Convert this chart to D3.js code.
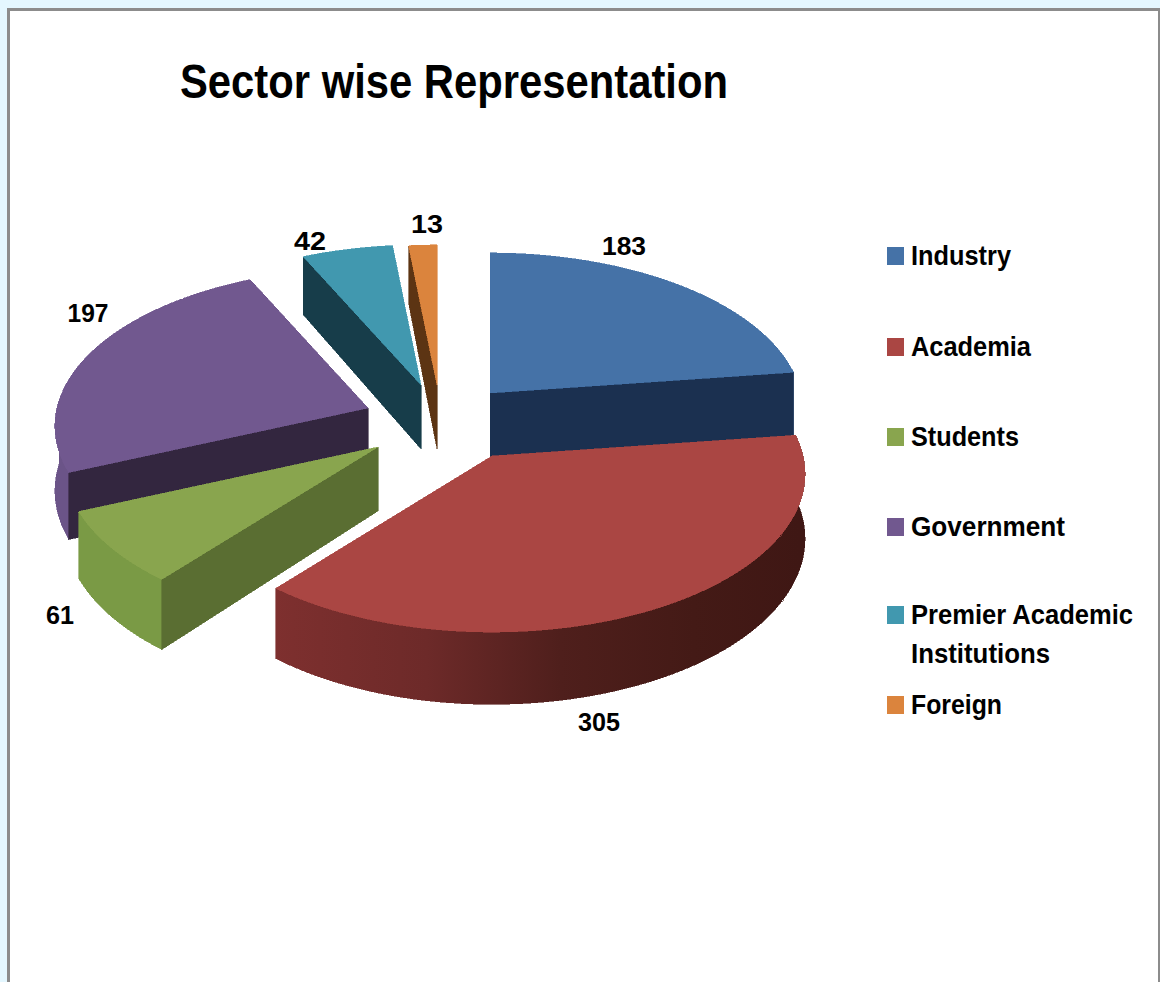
<!DOCTYPE html>
<html><head><meta charset="utf-8">
<style>html,body{margin:0;padding:0;background:#e4f7ff;overflow:hidden}svg{display:block}text{font-family:"Liberation Sans",Arial,sans-serif;font-weight:700;fill:#000}</style>
<script src="https://cdn.jsdelivr.net/npm/d3@7/dist/d3.min.js"></script>
</head><body><svg id="c" width="1160" height="982"></svg>
<script>
const categories = ["Industry","Academia","Students","Government","Premier Academic Institutions","Foreign"];
const values = [183,305,61,197,42,13];
const chartTitle = "Sector wise Representation";

const topColors  = ["#4572a7","#aa4643","#89a54e","#71588f","#4198af","#db843d"];
const faceColors = ["#1b3050","#5c2321","#5a6e32","#33263f","#173d4a","#5c3413"];
const rimColors  = ["#2a4a75","url(#rimRed)","#7a9a45","#6b5488","#2f6f80","#a0602c"];
const apexX = [490,492,378,368,421,437];
const apexY = [393,456,447,408,385,385];
const drawOrder = [0,5,4,3,2,1];
const labelX = [624,599,60,88,310,427];
const labelY = [255,731,624,322,250,233];
const labelW = [44,42,28,41,32,32];
const legendY = [247,338,428,518,606,696];
const legendLines = [["Industry"],["Academia"],["Students"],["Government"],["Premier Academic","Institutions"],["Foreign"]];
const legendW = [[100],[120],[108],[154],[222,139],[91]];

const SX = 311, SY = 156, K = 0.114, DEPTH = 64;
const svg = d3.select("#c");

const defs = svg.append("defs");
const g = defs.append("linearGradient").attr("id","rimRed").attr("gradientUnits","userSpaceOnUse")
  .attr("x1",267).attr("x2",800).attr("y1",0).attr("y2",0);
[[0,"#7f302f"],[0.3,"#6d2a29"],[0.55,"#4f1f1c"],[0.8,"#441a16"],[1,"#3f1714"]]
  .forEach(([o,c])=>g.append("stop").attr("offset",o).attr("stop-color",c));

// frame
svg.append("rect").attr("x",8.5).attr("y",9.5).attr("width",1160).attr("height",990)
  .attr("fill","#fff").attr("stroke","#8c8c8c").attr("stroke-width",3);
svg.append("rect").attr("x",1158).attr("y",9).attr("width",2).attr("height",973).attr("fill","#8c8c8c");

const pie = d3.pie().sort(null).startAngle(0).endAngle(2*Math.PI).value(d=>d);
const arcs = pie(values);

// perspective projection of a point on the disc; a = clockwise angle from back
const proj = (i,a,down=0,r=1)=>{
  const X = r*Math.sin(a), Y = -r*Math.cos(a), w = 1-K*Y;
  return [apexX[i]+SX*X/w, apexY[i]+SY*Y/w+down*DEPTH/w];
};
const line = d3.line();
const samples = (a,b)=>{const n=Math.max(2,Math.ceil((b-a)*60));return d3.range(n+1).map(t=>a+(b-a)*t/n);};
const shape = (sel,pts,fill)=>sel.append("path").attr("d",line(pts)+"Z").attr("fill",fill).attr("stroke",fill)
  .attr("stroke-width",0.6).attr("shape-rendering","crispEdges");

const pieG = svg.append("g");
drawOrder.forEach(i=>{
  const s = arcs[i].startAngle, e = arcs[i].endAngle;
  const gs = pieG.append("g").attr("class","slice");
  // curved rim
  const a0 = Math.max(s,Math.PI/2-0.14), a1 = Math.min(e,1.5*Math.PI+0.05);
  if(a1>a0){
    const ang = samples(a0,a1);
    shape(gs,[...ang.map(a=>proj(i,a,0)),...ang.slice().reverse().map(a=>proj(i,a,1))],rimColors[i]);
  }
  // cut faces that look toward the viewer
  const face = a=>shape(gs,[proj(i,a,0,0),proj(i,a,0),proj(i,a,1),proj(i,a,1,0)],faceColors[i]);
  if(Math.sin(e)>0) face(e);
  if(Math.sin(s)<0) face(s);
  // top surface
  shape(gs,[proj(i,0,0,0),...samples(s,e).map(a=>proj(i,a,0))],topColors[i]);
});

// title
svg.append("text").attr("x",180).attr("y",98).attr("font-size",48)
  .attr("textLength",548).attr("lengthAdjust","spacingAndGlyphs").text(chartTitle);

// data labels
values.forEach((v,i)=>{
  svg.append("text").attr("x",labelX[i]).attr("y",labelY[i]).attr("text-anchor","middle").attr("font-size",25)
    .attr("textLength",labelW[i]).attr("lengthAdjust","spacingAndGlyphs").text(v);
});

// legend
categories.forEach((c,i)=>{
  svg.append("rect").attr("x",887).attr("y",legendY[i]).attr("width",17).attr("height",18).attr("fill",topColors[i]);
  legendLines[i].forEach((t,j)=>{
    svg.append("text").attr("x",911).attr("y",legendY[i]+18+j*39).attr("font-size",27)
      .attr("textLength",legendW[i][j]).attr("lengthAdjust","spacingAndGlyphs").text(t);
  });
});
</script></body></html>
